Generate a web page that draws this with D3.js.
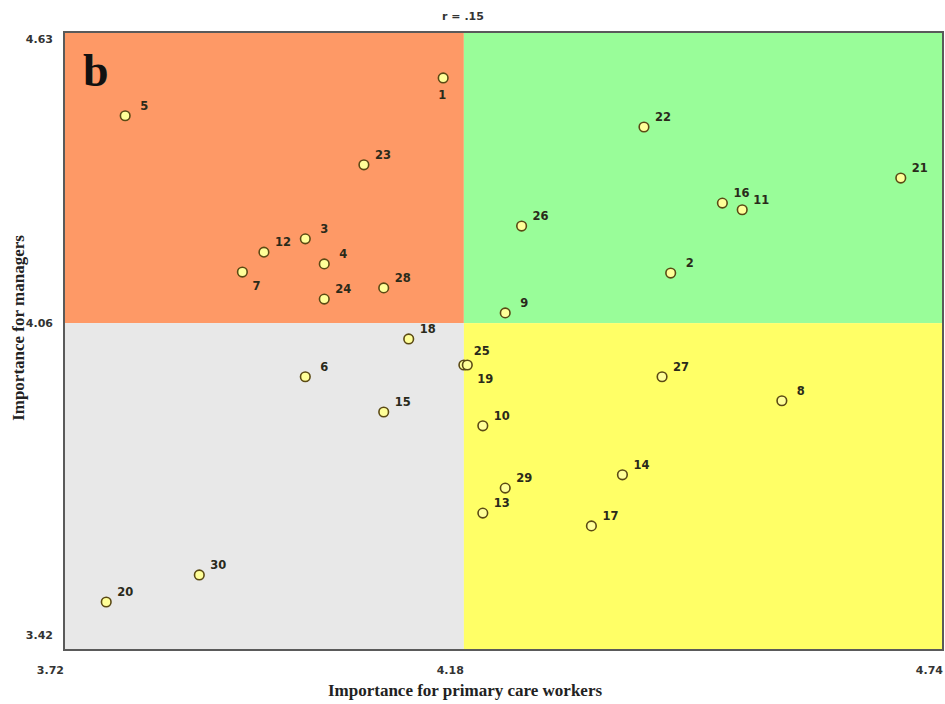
<!DOCTYPE html>
<html>
<head>
<meta charset="utf-8">
<script src="https://cdn.jsdelivr.net/npm/d3@7"></script>
<style>
  body { margin: 0; background: #fff; }
</style>
</head>
<body>
<svg id="chart"></svg>
<script>
// item ids
const items = [1, 5, 23, 22, 21, 16, 11, 26, 3, 12, 7, 4, 24, 28, 2, 9, 18, 25, 19, 6, 15, 27, 8, 10, 29, 13, 14, 17, 30, 20];
// importance for primary care workers (x)
const careValues = [4.160, 3.791, 4.068, 4.393, 4.691, 4.484, 4.507, 4.251, 4.000, 3.952, 3.927, 4.022, 4.022, 4.091, 4.424,
                    4.232, 4.120, 4.184, 4.188, 4.000, 4.091, 4.414, 4.553, 4.206, 4.232, 4.206, 4.368, 4.332, 3.877, 3.769];
// importance for managers (y)
const managerValues = [4.540, 4.466, 4.370, 4.444, 4.344, 4.295, 4.282, 4.250, 4.225, 4.199, 4.160, 4.176, 4.107, 4.129, 4.158,
                       4.080, 4.029, 3.978, 3.978, 3.955, 3.886, 3.955, 3.908, 3.859, 3.737, 3.688, 3.763, 3.663, 3.567, 3.514];
// axis ticks: min, mean, max
const xTicks = [3.72, 4.184, 4.74];
const yTicks = [3.42, 4.06, 4.63];

// labels that sit somewhere other than up-right
const labelSpot = { 1: "below", 7: "belowRight", 25: "aboveRight", 19: "belowRight" };

const W = 945, H = 704;
const box = { left: 64, top: 32, right: 943, bottom: 650 };

const svg = d3.select("#chart").attr("width", W).attr("height", H);

const x = d3.scaleLinear().domain([xTicks[0], xTicks[2]]).range([box.left, box.right]);
const y = d3.scaleLinear().domain([yTicks[0], yTicks[2]]).range([box.bottom, box.top]);

const data = items.map((id, i) => ({ id, care: careValues[i], mgr: managerValues[i] }));

// quadrants
const xm = xTicks[1], ym = yTicks[1];
const quads = [
  { x0: xTicks[0], x1: xm, y0: ym, y1: yTicks[2], fill: "#fe9966" },
  { x0: xm, x1: xTicks[2], y0: ym, y1: yTicks[2], fill: "#99fd99" },
  { x0: xTicks[0], x1: xm, y0: yTicks[0], y1: ym, fill: "#e8e8e8" },
  { x0: xm, x1: xTicks[2], y0: yTicks[0], y1: ym, fill: "#ffff66" }
];
svg.selectAll("rect.quad")
  .data(quads)
  .enter().append("rect")
    .attr("class", "quad")
    .attr("x", d => x(d.x0))
    .attr("y", d => y(d.y1))
    .attr("width", d => x(d.x1) - x(d.x0))
    .attr("height", d => y(d.y0) - y(d.y1))
    .attr("fill", d => d.fill);

// frame
svg.append("rect")
    .attr("x", box.left)
    .attr("y", box.top)
    .attr("width", box.right - box.left)
    .attr("height", box.bottom - box.top)
    .attr("fill", "none")
    .attr("stroke", "#5a5a5a")
    .attr("stroke-width", 2);

// points
svg.selectAll("circle.pt")
  .data(data)
  .enter().append("circle")
    .attr("class", "pt")
    .attr("cx", d => x(d.care))
    .attr("cy", d => y(d.mgr))
    .attr("r", 4.8)
    .attr("fill", "#ffff99")
    .attr("stroke", "#5b4a14")
    .attr("stroke-width", 1.6);

function labelOffset(id) {
  const s = labelSpot[id];
  if (s === "below") return [-2, 21];
  if (s === "belowRight") return [10, 18];
  if (s === "aboveRight") return [10, -10];
  return [19, -6];
}

svg.selectAll("text.lbl")
  .data(data)
  .enter().append("text")
    .attr("class", "lbl")
    .attr("x", d => x(d.care) + labelOffset(d.id)[0])
    .attr("y", d => y(d.mgr) + labelOffset(d.id)[1])
    .attr("text-anchor", d => labelSpot[d.id] ? "start" : "middle")
    .attr("dx", d => labelSpot[d.id] === "below" ? -3 : 0)
    .style("font-family", "'DejaVu Sans', sans-serif")
    .style("font-weight", "bold")
    .style("font-size", "11.5px")
    .style("fill", "#2a2a1a")
    .text(d => d.id);

// tick labels
const fmt = d3.format(".2f");
svg.selectAll("text.xt")
  .data(xTicks)
  .enter().append("text")
    .attr("class", "xt")
    .attr("x", d => x(d))
    .attr("y", 674)
    .attr("text-anchor", "end")
    .style("font-family", "'DejaVu Sans', sans-serif")
    .style("font-weight", "bold")
    .style("font-size", "11px")
    .style("fill", "#333")
    .text(d => fmt(d));

svg.selectAll("text.yt")
  .data(yTicks)
  .enter().append("text")
    .attr("class", "yt")
    .attr("x", box.left - 11)
    .attr("y", (d, i) => y(d) + [-11, 4, 11][i])
    .attr("text-anchor", "end")
    .style("font-family", "'DejaVu Sans', sans-serif")
    .style("font-weight", "bold")
    .style("font-size", "11px")
    .style("fill", "#333")
    .text(d => fmt(d));

// panel letter
svg.append("text")
    .attr("x", 83)
    .attr("y", 86)
    .style("font-family", "'Liberation Serif', serif")
    .style("font-weight", "bold")
    .style("font-size", "46px")
    .style("fill", "#111")
    .text("b");

// correlation
svg.append("text")
    .attr("x", 463)
    .attr("y", 20)
    .attr("text-anchor", "middle")
    .style("font-family", "'DejaVu Sans', sans-serif")
    .style("font-weight", "bold")
    .style("font-size", "11px")
    .style("fill", "#333")
    .text("r = .15");

// axis titles
svg.append("text")
    .attr("x", 465)
    .attr("y", 696)
    .attr("text-anchor", "middle")
    .style("font-family", "'Liberation Serif', serif")
    .style("font-weight", "bold")
    .style("font-size", "17px")
    .style("fill", "#222")
    .text("Importance for primary care workers");

svg.append("text")
    .attr("transform", "translate(24,328) rotate(-90)")
    .attr("text-anchor", "middle")
    .style("font-family", "'Liberation Serif', serif")
    .style("font-weight", "bold")
    .style("font-size", "17px")
    .style("fill", "#222")
    .text("Importance for managers");
</script>
</body>
</html>
